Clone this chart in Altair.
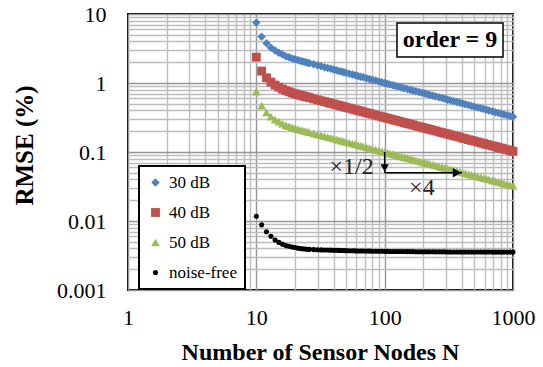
import altair as alt
import pandas as pd

# ---------------- data ----------------
N = [10, 11, 12, 13, 14, 15, 16, 17, 18, 19, 20, 21, 22, 23, 24, 25, 26,
     28, 30, 32, 34, 36, 38, 40, 42, 44, 46, 48, 50,
     53, 56, 59, 62, 65, 68, 72, 76, 80,
     85, 90, 95, 100, 105, 110, 116, 122, 128,
     135, 142, 150, 158, 166, 175, 185, 195, 205, 215, 225,
     238, 250, 265, 280, 295, 310, 325, 345, 365, 385, 405, 425,
     450, 475, 500, 530, 560, 590, 620, 650, 690, 730, 770, 810, 850,
     900, 950, 1000]

rmse_30 = [7.50, 4.70, 3.76, 3.25, 2.95, 2.75, 2.58, 2.45, 2.36, 2.27, 2.21, 2.15, 2.10, 2.055, 2.012, 1.972, 1.935,
           1.866, 1.804, 1.747, 1.697, 1.650, 1.607, 1.567, 1.530, 1.495, 1.463, 1.433, 1.404,
           1.365, 1.329, 1.295, 1.264, 1.235, 1.208, 1.175, 1.144, 1.116,
           1.083, 1.053, 1.025, 1.000, 0.976, 0.954, 0.930, 0.907, 0.886,
           0.863, 0.842, 0.820, 0.799, 0.780, 0.760, 0.740, 0.721, 0.703, 0.687, 0.672,
           0.654, 0.638, 0.620, 0.604, 0.589, 0.574, 0.561, 0.545, 0.530, 0.517, 0.504, 0.492,
           0.479, 0.466, 0.454, 0.442, 0.430, 0.419, 0.409, 0.400, 0.388, 0.378, 0.368, 0.359, 0.350,
           0.341, 0.332, 0.324]

rmse_40 = [2.37, 1.49, 1.19, 1.03, 0.933, 0.870, 0.816, 0.775, 0.746, 0.718, 0.699, 0.680, 0.664, 0.650, 0.636, 0.624, 0.612,
           0.590, 0.571, 0.552, 0.537, 0.522, 0.508, 0.496, 0.484, 0.473, 0.463, 0.453, 0.444,
           0.432, 0.420, 0.410, 0.400, 0.391, 0.382, 0.372, 0.362, 0.353,
           0.343, 0.333, 0.324, 0.316, 0.309, 0.302, 0.294, 0.287, 0.280,
           0.273, 0.266, 0.259, 0.253, 0.247, 0.240, 0.234, 0.228, 0.222, 0.217, 0.213,
           0.207, 0.202, 0.196, 0.191, 0.186, 0.182, 0.177, 0.172, 0.168, 0.164, 0.159, 0.156,
           0.151, 0.147, 0.144, 0.140, 0.136, 0.133, 0.129, 0.126, 0.123, 0.120, 0.116, 0.114, 0.111,
           0.108, 0.105, 0.102]

rmse_50 = [0.750, 0.470, 0.376, 0.325, 0.295, 0.275, 0.258, 0.245, 0.236, 0.227, 0.221, 0.215, 0.210, 0.2055, 0.2012, 0.1972, 0.1935,
           0.1866, 0.1804, 0.1747, 0.1697, 0.1650, 0.1607, 0.1567, 0.1530, 0.1495, 0.1463, 0.1433, 0.1404,
           0.1365, 0.1329, 0.1295, 0.1264, 0.1235, 0.1208, 0.1175, 0.1144, 0.1116,
           0.1083, 0.1053, 0.1025, 0.1000, 0.0976, 0.0954, 0.0930, 0.0907, 0.0886,
           0.0863, 0.0842, 0.0820, 0.0799, 0.0780, 0.0760, 0.0740, 0.0721, 0.0703, 0.0687, 0.0672,
           0.0654, 0.0638, 0.0620, 0.0604, 0.0589, 0.0574, 0.0561, 0.0545, 0.0530, 0.0517, 0.0504, 0.0492,
           0.0479, 0.0466, 0.0454, 0.0442, 0.0430, 0.0419, 0.0409, 0.0400, 0.0388, 0.0378, 0.0368, 0.0359, 0.0350,
           0.0341, 0.0332, 0.0324]

rmse_free = [0.0117, 0.0088, 0.0070, 0.0060, 0.0053, 0.0049, 0.0046, 0.0044, 0.0043, 0.0042, 0.00412, 0.00405, 0.00400, 0.00396, 0.00393, 0.00390, 0.00388,
             0.00385, 0.00383, 0.00381, 0.00380, 0.00379, 0.00378, 0.00377, 0.00376, 0.00375, 0.00374, 0.00373, 0.00372,
             0.00371, 0.00370, 0.00369, 0.00368, 0.00368, 0.00367, 0.00366, 0.00366, 0.00365,
             0.00365, 0.00364, 0.00364, 0.00363, 0.00363, 0.00362, 0.00362, 0.00362, 0.00361,
             0.00361, 0.00361, 0.00360, 0.00360, 0.00360, 0.00359, 0.00359, 0.00359, 0.00358, 0.00358, 0.00358,
             0.00358, 0.00357, 0.00357, 0.00357, 0.00357, 0.00356, 0.00356, 0.00356, 0.00356, 0.00356, 0.00356, 0.00356,
             0.00355, 0.00355, 0.00355, 0.00355, 0.00355, 0.00355, 0.00355, 0.00355, 0.00354, 0.00354, 0.00354, 0.00354, 0.00354,
             0.00354, 0.00354, 0.00354]

series = ["30 dB", "40 dB", "50 dB", "noise-free"]
colors = ["#4F81BD", "#C0504D", "#9BBB59", "#000000"]
shapes = ["diamond", "square", "triangle-up", "circle"]
sizes = [72, 78, 78, 26]

x_ticks = [1, 2, 3, 4, 5, 6, 7, 8, 9,
           10, 20, 30, 40, 50, 60, 70, 80, 90,
           100, 200, 300, 400, 500, 600, 700, 800, 900, 1000]
y_ticks = [0.001, 0.002, 0.003, 0.004, 0.005, 0.006, 0.007, 0.008, 0.009,
           0.01, 0.02, 0.03, 0.04, 0.05, 0.06, 0.07, 0.08, 0.09,
           0.1, 0.2, 0.3, 0.4, 0.5, 0.6, 0.7, 0.8, 0.9,
           1, 2, 3, 4, 5, 6, 7, 8, 9, 10]

rows = []
for name, vals in zip(series, [rmse_30, rmse_40, rmse_50, rmse_free]):
    for n, v in zip(N, vals):
        rows.append({"N": n, "RMSE": v, "series": name})
df = pd.DataFrame(rows)

FONT = "Liberation Serif"
MAJOR = "abs(log(datum.value)/LN10 - round(log(datum.value)/LN10)) < 0.001"
LABEL = f"{MAJOR} ? format(datum.value, '~g') : ''"
GRID_COLOR = {"condition": {"test": MAJOR, "value": "#969696"}, "value": "#bdbdbd"}

xscale = alt.Scale(type="log", domain=[1, 1000], nice=False)
yscale = alt.Scale(type="log", domain=[0.001, 10], nice=False)

x_axis = alt.Axis(values=x_ticks, labelExpr=LABEL, labelOverlap=False, labelFlush=False,
                  labelFont=FONT, labelFontSize=22, labelColor="black", labelPadding=17,
                  ticks=False, tickSize=0, domain=False,
                  grid=True, gridColor=GRID_COLOR, gridWidth=1.4,
                  title="Number of Sensor Nodes N", titleFont=FONT, titleFontSize=24,
                  titleFontWeight="bold", titleColor="black",
                  titleX=192, titleY=62, titleAlign="center", titleBaseline="middle")
y_axis = alt.Axis(values=y_ticks, labelExpr=LABEL, labelOverlap=False, labelFlush=False,
                  labelFont=FONT, labelFontSize=22, labelColor="black", labelPadding=22,
                  ticks=False, tickSize=0, domain=False,
                  grid=True, gridColor=GRID_COLOR, gridWidth=1.4,
                  title="RMSE (%)", titleFont=FONT, titleFontSize=25,
                  titleFontWeight="bold", titleColor="black", titleAngle=270,
                  titleX=-104, titleY=131, titleAlign="center", titleBaseline="middle")

legend = alt.Legend(title=None, orient="none", legendX=11, legendY=152, direction="vertical",
                    fillColor="white", strokeColor="black", padding=8, rowPadding=12,
                    labelFont=FONT, labelFontSize=17, labelColor="black", labelOffset=5,
                    symbolStrokeWidth=0)

points = alt.Chart(df).mark_point(filled=True, opacity=1, strokeWidth=0).encode(
    x=alt.X("N:Q", scale=xscale, axis=x_axis),
    y=alt.Y("RMSE:Q", scale=yscale, axis=y_axis),
    color=alt.Color("series:N", scale=alt.Scale(domain=series, range=colors), legend=legend),
    shape=alt.Shape("series:N", scale=alt.Scale(domain=series, range=shapes), legend=legend),
    size=alt.Size("series:N", scale=alt.Scale(type="ordinal", domain=series, range=sizes), legend=legend),
)

# ---------------- annotations ----------------
v_arrow = pd.DataFrame({"x": [100], "y": [0.1], "y2": [0.05]})
h_arrow = pd.DataFrame({"x": [100], "x2": [400], "y": [0.05]})
head_pts = pd.DataFrame({"x": [100, 400], "y": [0.05, 0.05]})

vrule = alt.Chart(v_arrow).mark_rule(color="black", strokeWidth=1.5).encode(
    x=alt.X("x:Q", scale=xscale), y=alt.Y("y:Q", scale=yscale), y2="y2:Q")
hrule = alt.Chart(h_arrow).mark_rule(color="black", strokeWidth=1.5).encode(
    x=alt.X("x:Q", scale=xscale), x2="x2:Q", y=alt.Y("y:Q", scale=yscale))
head_v = alt.Chart(head_pts.iloc[[0]]).mark_point(shape="triangle-down", filled=True, color="black",
                                                  size=70, opacity=1, yOffset=-5).encode(
    x=alt.X("x:Q", scale=xscale), y=alt.Y("y:Q", scale=yscale))
head_h = alt.Chart(head_pts.iloc[[1]]).mark_point(shape="triangle-right", filled=True, color="black",
                                                  size=90, opacity=1, xOffset=-5).encode(
    x=alt.X("x:Q", scale=xscale), y=alt.Y("y:Q", scale=yscale))

half_txt = alt.Chart(pd.DataFrame({"x": [100], "y": [0.06], "t": ["×1/2"]})).mark_text(
    font=FONT, fontSize=24, color="#222222", align="right", baseline="middle", dx=-11).encode(
    x=alt.X("x:Q", scale=xscale), y=alt.Y("y:Q", scale=yscale), text="t:N")
four_txt = alt.Chart(pd.DataFrame({"x": [195], "y": [0.03], "t": ["×4"]})).mark_text(
    font=FONT, fontSize=24, color="#222222", align="center", baseline="middle").encode(
    x=alt.X("x:Q", scale=xscale), y=alt.Y("y:Q", scale=yscale), text="t:N")

order_df = pd.DataFrame({"t": ["order = 9"]})
order_box = alt.Chart(order_df).mark_rect(fill="white", stroke="black", strokeWidth=1.5).encode(
    x=alt.value(269), x2=alt.value(375), y=alt.value(9), y2=alt.value(43))
order_txt = alt.Chart(order_df).mark_text(font=FONT, fontSize=24, fontWeight="bold", color="black",
                                          align="center", baseline="middle").encode(
    x=alt.value(322), y=alt.value(26), text="t:N")

chart = alt.layer(points, vrule, hrule, head_v, head_h, half_txt, four_txt, order_box, order_txt).properties(
    width=385, height=276,
    autosize=alt.AutoSizeParams(type="none"),
    padding={"left": 128, "top": 14, "right": 30, "bottom": 77},
    background="white",
).configure_view(stroke="black", strokeWidth=2).configure_legend(strokeWidth=2)

chart.save("out.html", embed_options={"renderer": "svg", "actions": False})
